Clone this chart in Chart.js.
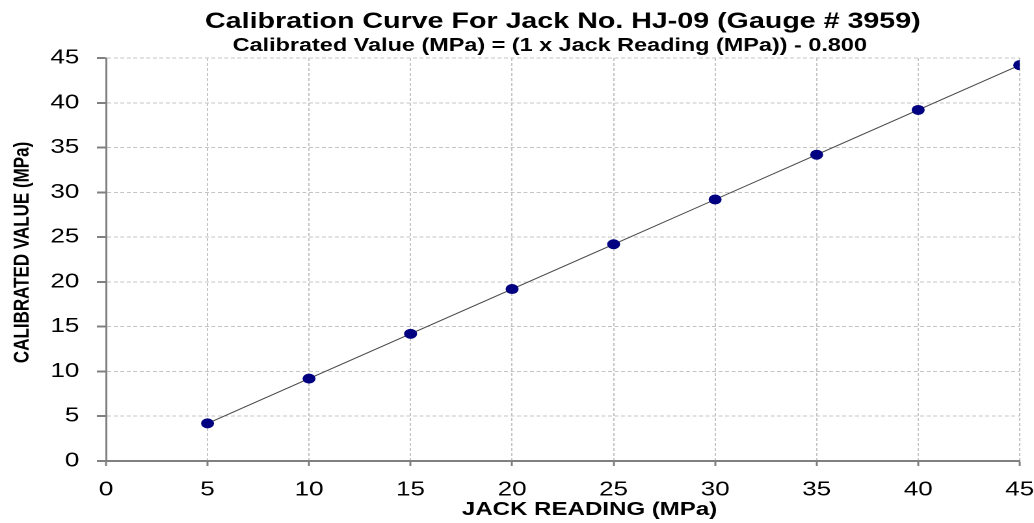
<!DOCTYPE html>
<html>
<head>
<meta charset="utf-8">
<script src="https://cdn.jsdelivr.net/npm/chart.js@4.4.0/dist/chart.umd.min.js"></script>
<style>
  html, body { margin: 0; padding: 0; background: #fff; overflow: hidden; }
  /* the reference is stretched sideways, so draw narrow and widen with css */
  #calChart { display: block; width: 1034px !important; height: 523px !important; }
</style>
</head>
<body>
<canvas id="calChart" width="795" height="523"></canvas>
<script>
'use strict';

const jackReading = [5, 10, 15, 20, 25, 30, 35, 40, 45];
const calibratedValue = [4.2, 9.2, 14.2, 19.2, 24.2, 29.2, 34.2, 39.2, 44.2];
const xTicks = [0, 5, 10, 15, 20, 25, 30, 35, 40, 45];
const yTicks = [0, 5, 10, 15, 20, 25, 30, 35, 40, 45];

const FONT = "'Liberation Sans', Arial, sans-serif";
const GRID = '#c4c4c4';
const AXIS = '#808080';

const points = jackReading.map((x, i) => ({ x: x, y: calibratedValue[i] }));

const ctx = document.getElementById('calChart').getContext('2d');
new Chart(ctx, {
    type: 'scatter',
    data: {
        datasets: [{
            label: 'Calibration',
            data: points,
            showLine: true,
            borderColor: '#4a4a4a',
            borderWidth: 1,
            pointRadius: 5,
            pointHoverRadius: 5,
            pointBackgroundColor: '#000080',
            pointBorderColor: '#000080',
            pointBorderWidth: 0,
            tension: 0
        }]
    },
    options: {
        responsive: false,
        devicePixelRatio: 2,
        animation: false,
        layout: { padding: { left: 0, right: 11, top: 0, bottom: 0 } },
        plugins: {
            legend: { display: false },
            tooltip: { enabled: false },
            title: {
                display: true,
                fullSize: false,
                text: 'Calibration Curve For Jack No. HJ-09 (Gauge # 3959)',
                color: '#000',
                font: { family: FONT, size: 22, weight: 'bold', lineHeight: 1 },
                padding: { top: 11, bottom: 4 }
            },
            subtitle: {
                display: true,
                fullSize: false,
                // trailing spaces nudge it a little left of centre, as in the source
                text: 'Calibrated Value (MPa) = (1 x Jack Reading (MPa)) - 0.800    ',
                color: '#000',
                font: { family: FONT, size: 18, weight: 'bold', lineHeight: 1 },
                padding: { top: 0, bottom: 3 }
            }
        },
        scales: {
            x: {
                type: 'linear',
                min: 0,
                max: 45,
                afterBuildTicks: axis => { axis.ticks = xTicks.map(v => ({ value: v })); },
                afterFit: axis => {
                    axis.height = 62;
                    axis.paddingLeft = 0;
                    axis.paddingRight = 0;
                },
                ticks: {
                    color: '#000',
                    font: { family: FONT, size: 20 },
                    padding: 12,
                    maxRotation: 0
                },
                grid: {
                    color: GRID,
                    lineWidth: 1,
                    tickLength: 5,
                    tickColor: AXIS,
                    tickWidth: 1.5
                },
                border: { display: true, color: AXIS, width: 2, dash: [3, 2] },
                title: {
                    display: true,
                    text: '        JACK READING (MPa)',
                    color: '#000',
                    font: { family: FONT, size: 18.5, weight: 'bold' },
                    padding: { top: 0, bottom: 2 }
                }
            },
            y: {
                type: 'linear',
                min: 0,
                max: 45,
                afterBuildTicks: axis => { axis.ticks = yTicks.map(v => ({ value: v })); },
                afterFit: axis => { axis.width = 81.5; },
                ticks: {
                    color: '#000',
                    font: { family: FONT, size: 20 },
                    padding: 13.5
                },
                grid: {
                    color: GRID,
                    lineWidth: 1,
                    tickLength: 7,
                    tickColor: AXIS,
                    tickWidth: 2
                },
                border: { display: true, color: AXIS, width: 1.5, dash: [3, 2] },
                title: {
                    display: true,
                    text: '   CALIBRATED VALUE (MPa)',
                    color: '#000',
                    font: { family: FONT, size: 17, weight: 'bold' },
                    padding: { top: 7, bottom: 0 }
                }
            }
        }
    }
});
</script>
</body>
</html>
